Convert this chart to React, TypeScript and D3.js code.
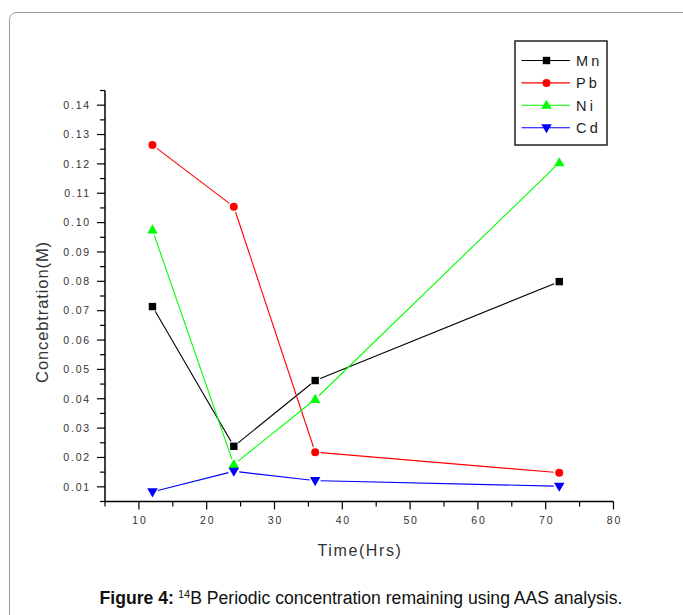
import React from "react";
import * as d3 from "d3";

const times = [12, 24, 36, 72];
const mn = [0.0714, 0.0238, 0.0462, 0.0799];
const pb = [0.1264, 0.1054, 0.0218, 0.0148];
const ni = [0.0975, 0.0176, 0.0398, 0.1204];
const cd = [0.0083, 0.0153, 0.0121, 0.0102];
const seriesNames = ["Mn", "Pb", "Ni", "Cd"];
const seriesColors = ["#000000", "#ff0000", "#00ff00", "#0000ff"];
const seriesShapes = ["square", "circle", "triangle", "down"];
const xMajorTicks = [10, 20, 30, 40, 50, 60, 70, 80];
const yMajorTicks = [0.01, 0.02, 0.03, 0.04, 0.05, 0.06, 0.07, 0.08, 0.09, 0.1, 0.11, 0.12, 0.13, 0.14];

const W = 683;
const H = 615;

function Marker({ shape, x, y, color }: { shape: string; x: number; y: number; color: string }) {
  if (shape === "square") return <rect x={x - 3.7} y={y - 3.7} width={7.4} height={7.4} fill={color} />;
  if (shape === "circle") return <circle cx={x} cy={y} r={4} fill={color} />;
  if (shape === "triangle") {
    const s = d3.symbol().type(d3.symbolTriangle).size(48)();
    return <path d={s || ""} transform={`translate(${x},${y + 0.5})`} fill={color} />;
  }
  const s = d3.symbol().type(d3.symbolTriangle).size(48)();
  return <path d={s || ""} transform={`translate(${x},${y - 0.5}) rotate(180)`} fill={color} />;
}

export default function App() {
  const x = d3.scaleLinear().domain([5, 80]).range([105, 613.5]);
  const y = d3.scaleLinear().domain([0.005, 0.145]).range([501.5, 90.5]);
  const data = [mn, pb, ni, cd];
  const gap = 5.5;

  const xMinor = d3.range(5, 81, 5).filter((v) => v % 10 !== 0);
  const yMinor = d3.range(0, 29).map((i) => 0.005 + i * 0.01).filter((v) => v <= 0.1451);

  const tickFont = "'Liberation Sans', Arial, sans-serif";

  return (
    <svg width={W} height={H} style={{ position: "absolute", left: 0, top: 0 }}>
      <rect x={0} y={0} width={W} height={H} fill="#fff" />
      <rect x={9.5} y={12.5} width={700} height={640} rx={7} ry={7} fill="none" stroke="#9a9a9a" strokeWidth={1} />

      {data.map((vals, si) => (
        <g key={"l" + si}>
          {vals.slice(0, -1).map((v, i) => {
            const x1 = x(times[i]);
            const y1 = y(v);
            const x2 = x(times[i + 1]);
            const y2 = y(vals[i + 1]);
            const len = Math.hypot(x2 - x1, y2 - y1);
            const ux = (x2 - x1) / len;
            const uy = (y2 - y1) / len;
            return (
              <line
                key={i}
                x1={x1 + ux * gap}
                y1={y1 + uy * gap}
                x2={x2 - ux * gap}
                y2={y2 - uy * gap}
                stroke={seriesColors[si]}
                strokeWidth={1.1}
              />
            );
          })}
          {vals.map((v, i) => (
            <Marker key={i} shape={seriesShapes[si]} x={x(times[i])} y={y(v)} color={seriesColors[si]} />
          ))}
        </g>
      ))}

      <line x1={x(5)} y1={y(0.005)} x2={x(80)} y2={y(0.005)} stroke="#000" strokeWidth={1.5} />
      <line x1={x(5)} y1={y(0.005) + 0.75} x2={x(5)} y2={y(0.145)} stroke="#000" strokeWidth={1.5} />
      {xMajorTicks.map((t) => (
        <g key={"xt" + t}>
          <line x1={x(t)} x2={x(t)} y1={y(0.005)} y2={y(0.005) + 8} stroke="#000" strokeWidth={1.2} />
          <text x={x(t) + 1} y={524} textAnchor="middle" fontFamily={tickFont} fontSize={10.5} letterSpacing={1.8} fill="#333">
            {t}
          </text>
        </g>
      ))}
      {xMinor.map((t) => (
        <line key={"xm" + t} x1={x(t)} x2={x(t)} y1={y(0.005)} y2={y(0.005) + 5} stroke="#000" strokeWidth={1.2} />
      ))}
      {yMajorTicks.map((t) => (
        <g key={"yt" + t}>
          <line x1={x(5) - 8} x2={x(5)} y1={y(t)} y2={y(t)} stroke="#000" strokeWidth={1.2} />
          <text x={91} y={y(t) + 3.8} textAnchor="end" fontFamily={tickFont} fontSize={10.5} letterSpacing={1.8} fill="#333">
            {t.toFixed(2)}
          </text>
        </g>
      ))}
      {yMinor.map((t) => (
        <line key={"ym" + t} x1={x(5) - 5} x2={x(5)} y1={y(t)} y2={y(t)} stroke="#000" strokeWidth={1.2} />
      ))}

      <text x={360} y={556} textAnchor="middle" fontFamily={tickFont} fontSize={16} letterSpacing={1.6} fill="#333">
        Time(Hrs)
      </text>
      <text
        transform="translate(48,312) rotate(-90)"
        textAnchor="middle"
        fontFamily={tickFont}
        fontSize={16.5}
        letterSpacing={0.9}
        fill="#333"
      >
        Concebtration(M)
      </text>

      <rect x={515} y={41} width={92} height={104} fill="none" stroke="#222" strokeWidth={1.5} />
      {seriesNames.map((n, i) => {
        const ly = 60.5 + i * 22.4;
        return (
          <g key={"lg" + n}>
            <line x1={521.5} x2={570} y1={ly} y2={ly} stroke={seriesColors[i]} strokeWidth={1.1} />
            <Marker shape={seriesShapes[i]} x={546.5} y={ly} color={seriesColors[i]} />
            <text x={576} y={ly + 5.3} fontFamily={tickFont} fontSize={14.5} letterSpacing={3.2} fill="#222">
              {n}
            </text>
          </g>
        );
      })}

      <text x={361} y={604} textAnchor="middle" fontFamily={tickFont} fontSize={17.6} fill="#111">
        <tspan fontWeight="bold">Figure 4:</tspan>
        <tspan dx={4} fontSize={11} dy={-6.5}>14</tspan>
        <tspan dy={6.5}>B Periodic concentration remaining using AAS analysis.</tspan>
      </text>
    </svg>
  );
}
